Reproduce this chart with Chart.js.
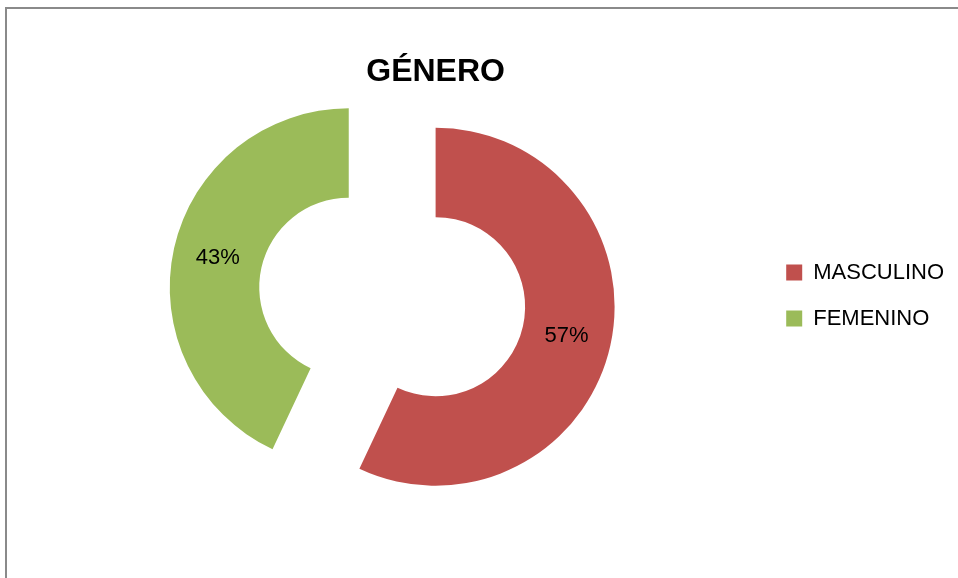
<!DOCTYPE html>
<html><head><meta charset="utf-8">
<script src="https://cdn.jsdelivr.net/npm/chart.js@4.4.1/dist/chart.umd.min.js"></script>
<style>
html,body{margin:0;padding:0;background:#fff;overflow:hidden}
#wrap{position:relative;width:958px;height:578px;overflow:hidden}
#frame{position:absolute;left:5px;top:7px;width:2000px;height:2000px;border-left:2px solid #8a8a8a;border-top:2px solid #8a8a8a;pointer-events:none}
canvas{position:absolute;left:0;top:0}
</style></head><body>
<div id="wrap"><canvas id="c" width="958" height="578"></canvas><div id="frame"></div></div>
<script>
// ---- data ----
const categories = ['MASCULINO', 'FEMENINO'];
const values = [57, 43];
const chartTitle = 'GÉNERO';

// ---- styles ----
const sliceColors = ['#C0504D', '#9BBB59'];
const explodeDistance = [0, 89]; // pixel translation of each slice along its mid angle
const FONT = "'Liberation Sans', Arial, sans-serif";

Chart.defaults.font.family = FONT;
Chart.defaults.color = '#000';

const explodePlugin = {
  id: 'explode',
  beforeDatasetDraw(chart, args) {
    const ctx = chart.ctx;
    args.meta.data.forEach((arc, i) => {
      const d = explodeDistance[i] || 0;
      const mid = (arc.startAngle + arc.endAngle) / 2;
      ctx.save();
      ctx.translate(Math.cos(mid) * d, Math.sin(mid) * d);
      arc.draw(ctx, chart.chartArea);
      ctx.restore();
    });
    return false;
  }
};

const labelPlugin = {
  id: 'sliceLabels',
  afterDatasetsDraw(chart) {
    const ctx = chart.ctx;
    const meta = chart.getDatasetMeta(0);
    const data = chart.data.datasets[0].data;
    const total = data.reduce((a, b) => a + b, 0);
    ctx.save();
    ctx.font = '22px ' + FONT;
    ctx.fillStyle = '#000';
    ctx.textAlign = 'center';
    ctx.textBaseline = 'middle';
    meta.data.forEach((arc, i) => {
      const p = arc.getCenterPoint();
      const d = explodeDistance[i] || 0;
      const mid = (arc.startAngle + arc.endAngle) / 2;
      const txt = Math.round(data[i] / total * 100) + '%';
      ctx.fillText(txt, p.x + Math.cos(mid) * d, p.y + Math.sin(mid) * d);
    });
    ctx.restore();
  }
};

new Chart(document.getElementById('c'), {
  type: 'doughnut',
  data: {
    labels: categories,
    datasets: [{
      data: values,
      backgroundColor: sliceColors,
      borderWidth: 0
    }]
  },
  options: {
    responsive: false,
    animation: false,
    radius: 179,
    cutout: '50%',
    layout: { padding: { left: 109, right: 4, top: 0, bottom: 56 } },
    plugins: {
      tooltip: { enabled: false },
      title: {
        display: true,
        text: chartTitle,
        fullSize: false,
        color: '#000',
        font: { size: 32, weight: 'bold', family: FONT },
        padding: { top: 53, bottom: 0 }
      },
      legend: {
        position: 'right',
        align: 'center',
        title: { display: true, text: '', font: { size: 10 }, padding: { top: 57, bottom: 0 } },
        labels: {
          boxWidth: 16,
          boxHeight: 16,
          padding: 24,
          color: '#000',
          font: { size: 22, family: FONT }
        }
      }
    }
  },
  plugins: [explodePlugin, labelPlugin]
});
</script>
</body></html>
